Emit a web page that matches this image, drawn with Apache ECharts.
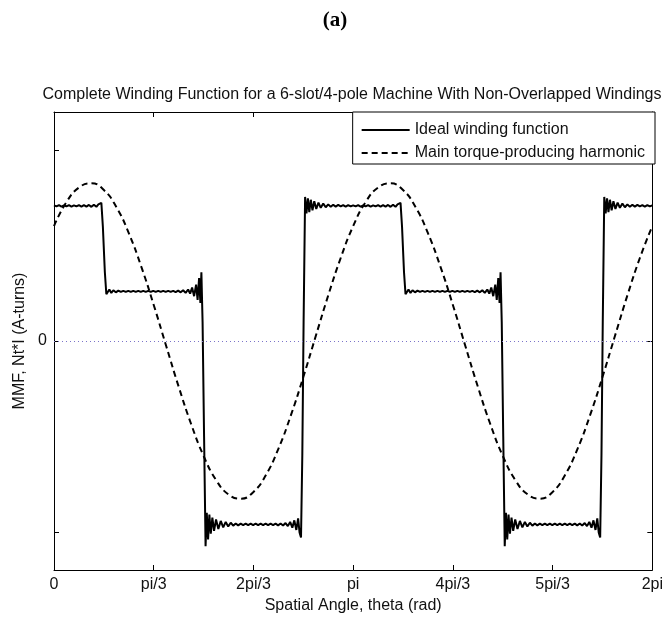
<!DOCTYPE html>
<html>
<head>
<meta charset="utf-8">
<script src="https://cdn.jsdelivr.net/npm/echarts@6/dist/echarts.min.js"></script>
<style>
  html, body { margin: 0; padding: 0; background: #fff; }
  #chart { width: 666px; height: 619px; }
</style>
</head>
<body>
<div id="chart"></div>
<script>
// Angle axis is expressed in multiples of pi/3 (0 .. 6 => 0 .. 2pi)
var angleTicks = [0, 1, 2, 3, 4, 5, 6];
var angleTickLabels = ['0', 'pi/3', '2pi/3', 'pi', '4pi/3', '5pi/3', '2pi'];

// MMF tick positions (only the zero tick carries a label)
var mmfTicks = [-1, 0, 1];
var mmfTickLabels = [0];

var seriesNames = ['Ideal winding function', 'Main torque-producing harmonic'];

// Ideal winding function (Fourier-synthesised, with Gibbs ringing), [angle, MMF]
var idealWinding = [
  [0,0.711],[0.025,0.705],[0.05,0.712],[0.075,0.704],[0.1,0.711],[0.125,0.705],[0.15,0.712],[0.175,0.704],[0.2,0.711],[0.225,0.705],
  [0.25,0.712],[0.275,0.704],[0.3,0.712],[0.325,0.704],[0.35,0.713],[0.375,0.703],[0.4,0.714],[0.425,0.703],[0.445,0.716],[0.46,0.708],[0.475,0.724],
  [0.49,0.6],[0.51,0.36],[0.525,0.245],[0.54,0.25],[0.555,0.27],[0.575,0.252],[0.595,0.266],[0.62,0.255],[0.645,0.264],
  [0.67,0.257],[0.695,0.263],[0.72,0.257],[0.745,0.263],[0.77,0.257],[0.795,0.263],[0.82,0.257],[0.845,0.263],[0.87,0.257],[0.895,0.263],
  [0.92,0.257],[0.945,0.263],[0.97,0.257],[0.995,0.263],[1.02,0.257],[1.045,0.263],[1.07,0.257],[1.095,0.263],[1.12,0.257],[1.145,0.263],
  [1.17,0.257],[1.195,0.263],[1.22,0.256],[1.245,0.264],[1.27,0.255],[1.295,0.266],
  [1.32,0.252],[1.345,0.27],[1.365,0.248],[1.385,0.28],[1.405,0.235],[1.425,0.295],[1.44,0.215],[1.455,0.33],[1.468,0.2],[1.478,0.36],
  [1.49,0.1],[1.505,-0.5],[1.52,-1.075],
  [1.532,-0.9],[1.545,-1.04],[1.558,-0.91],[1.572,-1.01],[1.588,-0.925],[1.605,-0.995],[1.625,-0.935],[1.648,-0.985],[1.672,-0.943],[1.697,-0.977],
  [1.722,-0.948],[1.747,-0.972],[1.772,-0.952],
  [1.797,-0.968],[1.822,-0.956],[1.847,-0.966],[1.872,-0.957],[1.897,-0.965],[1.922,-0.957],[1.947,-0.965],[1.972,-0.957],[1.997,-0.965],[2.022,-0.957],
  [2.047,-0.965],[2.072,-0.957],[2.097,-0.965],[2.122,-0.957],[2.147,-0.965],[2.172,-0.957],[2.197,-0.965],[2.222,-0.957],[2.247,-0.966],[2.272,-0.956],
  [2.297,-0.967],[2.322,-0.954],
  [2.345,-0.97],[2.368,-0.948],[2.39,-0.978],[2.41,-0.94],[2.43,-0.99],[2.448,-0.93],[2.463,-1.005],[2.477,-1.03],
  [2.49,-0.6],[2.503,0.1],[2.518,0.755],
  [2.532,0.668],[2.546,0.748],[2.56,0.675],[2.575,0.74],[2.592,0.685],[2.61,0.732],[2.63,0.692],[2.652,0.725],[2.675,0.698],[2.7,0.72],
  [2.725,0.701],[2.75,0.716],[2.775,0.703],
  [2.8,0.714],[2.825,0.704],[2.85,0.713],[2.875,0.705],[2.9,0.712],[2.925,0.704],[2.95,0.712],[2.975,0.705],

  [3,0.711],[3.025,0.705],[3.05,0.712],[3.075,0.704],[3.1,0.711],[3.125,0.705],[3.15,0.712],[3.175,0.704],[3.2,0.711],[3.225,0.705],
  [3.25,0.712],[3.275,0.704],[3.3,0.712],[3.325,0.704],[3.35,0.713],[3.375,0.703],[3.4,0.714],[3.425,0.703],[3.445,0.716],[3.46,0.708],[3.475,0.724],
  [3.49,0.6],[3.51,0.36],[3.525,0.245],[3.54,0.25],[3.555,0.27],[3.575,0.252],[3.595,0.266],[3.62,0.255],[3.645,0.264],
  [3.67,0.257],[3.695,0.263],[3.72,0.257],[3.745,0.263],[3.77,0.257],[3.795,0.263],[3.82,0.257],[3.845,0.263],[3.87,0.257],[3.895,0.263],
  [3.92,0.257],[3.945,0.263],[3.97,0.257],[3.995,0.263],[4.02,0.257],[4.045,0.263],[4.07,0.257],[4.095,0.263],[4.12,0.257],[4.145,0.263],
  [4.17,0.257],[4.195,0.263],[4.22,0.256],[4.245,0.264],[4.27,0.255],[4.295,0.266],
  [4.32,0.252],[4.345,0.27],[4.365,0.248],[4.385,0.28],[4.405,0.235],[4.425,0.295],[4.44,0.215],[4.455,0.33],[4.468,0.2],[4.478,0.36],
  [4.49,0.1],[4.505,-0.5],[4.52,-1.075],
  [4.532,-0.9],[4.545,-1.04],[4.558,-0.91],[4.572,-1.01],[4.588,-0.925],[4.605,-0.995],[4.625,-0.935],[4.648,-0.985],[4.672,-0.943],[4.697,-0.977],
  [4.722,-0.948],[4.747,-0.972],[4.772,-0.952],
  [4.797,-0.968],[4.822,-0.956],[4.847,-0.966],[4.872,-0.957],[4.897,-0.965],[4.922,-0.957],[4.947,-0.965],[4.972,-0.957],[4.997,-0.965],[5.022,-0.957],
  [5.047,-0.965],[5.072,-0.957],[5.097,-0.965],[5.122,-0.957],[5.147,-0.965],[5.172,-0.957],[5.197,-0.965],[5.222,-0.957],[5.247,-0.966],[5.272,-0.956],
  [5.297,-0.967],[5.322,-0.954],
  [5.345,-0.97],[5.368,-0.948],[5.39,-0.978],[5.41,-0.94],[5.43,-0.99],[5.448,-0.93],[5.463,-1.005],[5.477,-1.03],
  [5.49,-0.6],[5.503,0.1],[5.518,0.755],
  [5.532,0.668],[5.546,0.748],[5.56,0.675],[5.575,0.74],[5.592,0.685],[5.61,0.732],[5.63,0.692],[5.652,0.725],[5.675,0.698],[5.7,0.72],
  [5.725,0.701],[5.75,0.716],[5.775,0.703],
  [5.8,0.714],[5.825,0.704],[5.85,0.713],[5.875,0.705],[5.9,0.712],[5.925,0.704],[5.95,0.712],[5.975,0.705],[6,0.711]
];

// Main torque-producing harmonic, sampled every pi/24
var harmonicAngle = [
  0, 0.125, 0.25, 0.375, 0.5, 0.625, 0.75, 0.875, 1, 1.125, 1.25, 1.375, 1.5, 1.625, 1.75, 1.875,
  2, 2.125, 2.25, 2.375, 2.5, 2.625, 2.75, 2.875, 3, 3.125, 3.25, 3.375, 3.5, 3.625, 3.75, 3.875,
  4, 4.125, 4.25, 4.375, 4.5, 4.625, 4.75, 4.875, 5, 5.125, 5.25, 5.375, 5.5, 5.625, 5.75, 5.875, 6
];
var harmonicMmf = [
  0.602, 0.728, 0.804, 0.826, 0.791, 0.702, 0.565, 0.390, 0.189, -0.026, -0.239, -0.435, -0.602, -0.728, -0.804, -0.826,
  -0.791, -0.702, -0.565, -0.390, -0.189, 0.026, 0.239, 0.435, 0.602, 0.728, 0.804, 0.826, 0.791, 0.702, 0.565, 0.390,
  0.189, -0.026, -0.239, -0.435, -0.602, -0.728, -0.804, -0.826, -0.791, -0.702, -0.565, -0.390, -0.189, 0.026, 0.239, 0.435, 0.602
];

var FONT = '"Liberation Sans", Arial, Helvetica, sans-serif';
var FS = 16;
var TEXT = '#111';

var harmonicData = harmonicAngle.map(function (a, i) { return [a, harmonicMmf[i]]; });

var chart = echarts.init(document.getElementById('chart'), null, { renderer: 'canvas' });

var frameLine = { show: true, onZero: false, lineStyle: { color: '#000', width: 1 } };
var innerTick = { show: true, inside: true, length: 5, lineStyle: { color: '#000' } };

chart.setOption({
  animation: false,
  backgroundColor: '#fff',
  grid: { left: 54, right: 11, top: 112, bottom: 49, containLabel: false },
  graphic: [
    {
      type: 'text', x: 335, y: 21,
      style: {
        text: '(a)', font: 'bold 21px "Liberation Serif", "Times New Roman", serif',
        fill: '#000', align: 'center', verticalAlign: 'middle'
      }
    },
    {
      type: 'text', x: 352, y: 95,
      style: {
        text: 'Complete Winding Function for a 6-slot/4-pole Machine With Non-Overlapped Windings',
        font: FS + 'px ' + FONT, fill: TEXT, align: 'center', verticalAlign: 'middle'
      }
    }
  ],
  legend: {
    right: 11, top: 112,
    orient: 'vertical',
    align: 'left',
    backgroundColor: '#fff',
    borderColor: '#000',
    borderWidth: 1,
    borderRadius: 0,
    padding: [10, 10, 3, 8],
    itemWidth: 48,
    itemHeight: 16,
    itemGap: 7,
    itemStyle: { color: 'transparent', borderColor: 'transparent', borderWidth: 0, opacity: 0 },
    textStyle: { fontFamily: FONT, fontSize: FS, color: TEXT },
    data: seriesNames
  },
  xAxis: [
    {
      type: 'value', min: 0, max: 6, interval: 1,
      position: 'bottom',
      name: 'Spatial Angle, theta (rad)',
      nameLocation: 'middle', nameGap: 26,
      nameTextStyle: { fontFamily: FONT, fontSize: FS, color: TEXT },
      axisLine: frameLine,
      axisTick: innerTick,
      axisLabel: {
        show: true, margin: 7, fontFamily: FONT, fontSize: FS, color: TEXT,
        showMinLabel: true, showMaxLabel: true,
        formatter: function (v) {
          var i = angleTicks.indexOf(Math.round(v));
          return i >= 0 ? angleTickLabels[i] : '';
        }
      },
      splitLine: { show: false }
    },
    {
      type: 'value', min: 0, max: 6, interval: 1,
      position: 'top',
      axisLine: frameLine,
      axisTick: innerTick,
      axisLabel: { show: false },
      splitLine: { show: false }
    }
  ],
  yAxis: [
    {
      type: 'value', min: -1.2, max: 1.2,
      position: 'left',
      name: 'MMF, Nt*I (A-turns)',
      nameLocation: 'middle', nameGap: 24,
      nameTextStyle: { fontFamily: FONT, fontSize: FS, color: TEXT },
      axisLine: frameLine,
      axisTick: { show: true, inside: true, length: 5, customValues: mmfTicks, lineStyle: { color: '#000' } },
      axisLabel: { show: true, margin: 7, fontFamily: FONT, fontSize: FS, color: TEXT, customValues: mmfTickLabels },
      splitLine: { show: false }
    },
    {
      type: 'value', min: -1.2, max: 1.2,
      position: 'right',
      axisLine: frameLine,
      axisTick: { show: true, inside: true, length: 5, customValues: mmfTicks, lineStyle: { color: '#000' } },
      axisLabel: { show: false },
      splitLine: { show: false }
    }
  ],
  series: [
    {
      name: seriesNames[0],
      type: 'line',
      xAxisIndex: 0, yAxisIndex: 0,
      data: idealWinding,
      symbol: 'none',
      showSymbol: false,
      lineStyle: { color: '#000', width: 2, type: 'solid' },
      itemStyle: { color: '#000' },
      z: 3,
      markLine: {
        silent: true,
        symbol: ['none', 'none'],
        label: { show: false },
        lineStyle: { type: [1, 3], color: '#7b74c9', width: 1 },
        data: [{ yAxis: 0 }]
      }
    },
    {
      name: seriesNames[1],
      type: 'line',
      xAxisIndex: 0, yAxisIndex: 0,
      data: harmonicData,
      smooth: true,
      symbol: 'none',
      showSymbol: false,
      lineStyle: { color: '#000', width: 2, type: [6, 4] },
      itemStyle: { color: '#000' },
      z: 4
    }
  ]
});
</script>
</body>
</html>
